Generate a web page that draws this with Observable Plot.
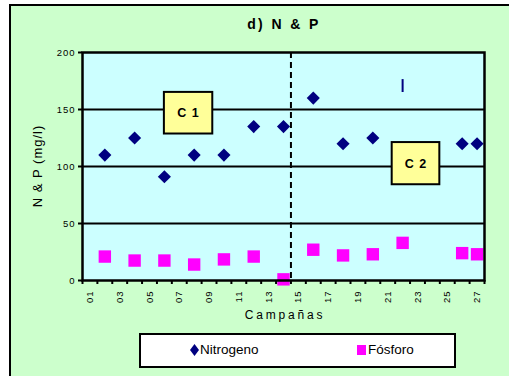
<!DOCTYPE html>
<html>
<head>
<meta charset="utf-8">
<script src="https://cdn.jsdelivr.net/npm/d3@7"></script>
<script src="https://cdn.jsdelivr.net/npm/@observablehq/plot@0.6"></script>
<style>
  body { margin: 0; width: 509px; height: 376px; overflow: hidden; font-family: "Liberation Sans", Arial, sans-serif; }
  #panel { position: absolute; left: 9px; top: 4px; width: 520px; height: 400px; border: 2px solid #000; background: #ccffcc; }
  #chart { position: absolute; left: 0; top: 0; }
  .lbl { position: absolute; color: #000; white-space: nowrap; }
  #title { left: 0; width: 568px; top: 16px; text-align: center; font-weight: bold; font-size: 14px; letter-spacing: 2.4px; }
  #xtitle { left: 0; width: 570px; top: 308px; text-align: center; font-size: 12px; letter-spacing: 2.8px; }
  #ytitle { left: 37px; top: 166px; font-size: 13px; letter-spacing: 1px; transform: translate(-50%, -50%) rotate(-90deg); }
  #legend { position: absolute; left: 139px; top: 333px; width: 313px; height: 31px; border: 2px solid #000; background: #fff; font-size: 13.5px; }
  #legend .item { position: absolute; top: 7px; display: flex; align-items: center; }
  #legend svg { margin-right: 1px; }
</style>
</head>
<body>
<div id="panel"></div>
<div id="chart"></div>
<div class="lbl" id="title">d) N &amp; P</div>
<div class="lbl" id="xtitle">Campañas</div>
<div class="lbl" id="ytitle">N &amp; P (mg/l)</div>
<div id="legend">
  <div class="item" style="left:49px"><svg width="9" height="12"><polygon points="4.5,0 9,6 4.5,12 0,6" fill="#000080"/></svg><span>Nitrogeno</span></div>
  <div class="item" style="left:216px"><svg width="10" height="11"><rect x="0" y="1" width="9" height="10" fill="#ff00ff"/></svg><span>Fósforo</span></div>
</div>
<script>
// Campaigns 01..27 on the category axis
const campaigns = d3.range(1, 28);
const labelledCampaigns = [1, 3, 5, 7, 9, 11, 13, 15, 17, 19, 21, 23, 25, 27];
const tickLabels = ["01", "03", "05", "07", "09", "11", "13", "15", "17", "19", "21", "23", "25", "27"];
const yTicks = [0, 50, 100, 150, 200];

// Nitrogen (mg/l) per sampled campaign
const nitroCampaign = [2, 4, 6, 8, 10, 12, 14, 16, 18, 20, 26, 27];
const nitroValue    = [110, 125, 91, 110, 110, 135, 135, 160, 120, 125, 120, 120];

// Nitrogen reading at campaign 22, drawn as a bar glyph
const nitroBarCampaign = [22];
const nitroBarValue = [171];

// Phosphorus (mg/l) per sampled campaign
const phosCampaign = [2, 4, 6, 8, 10, 12, 14, 16, 18, 20, 22, 26, 27];
const phosValue    = [21, 17.5, 17.5, 14, 18.5, 21, 1, 27, 22, 23, 33, 24, 23];

// Division between the two survey periods
const periodBreak = [14.5];

// Period annotation boxes
const boxLabels = ["C 1", "C 2"];
const boxX1 = [6.0, 21.3];
const boxX2 = [9.25, 24.5];
const boxY1 = [128.5, 84];
const boxY2 = [165, 121];

const nitro = nitroCampaign.map((c, i) => ({campaign: c, value: nitroValue[i]}));
const nitroBar = nitroBarCampaign.map((c, i) => ({campaign: c, value: nitroBarValue[i]}));
const phos = phosCampaign.map((c, i) => ({campaign: c, value: phosValue[i]}));
const boxes = boxLabels.map((t, i) => ({label: t, x1: boxX1[i], x2: boxX2[i], y1: boxY1[i], y2: boxY2[i]}));
const boundaries = [0, ...campaigns].map(c => c + 0.5);

const barSymbol = {
  draw(context, size) {
    const h = Math.sqrt(size) / 2;
    context.moveTo(-1, -h);
    context.lineTo(1, -h);
    context.lineTo(1, h);
    context.lineTo(-1, h);
    context.closePath();
  }
};

const chart = Plot.plot({
  width: 509,
  height: 376,
  marginLeft: 82,
  marginRight: 25,
  marginTop: 52,
  marginBottom: 96,
  style: {background: "transparent", fontFamily: "Liberation Sans, Arial, sans-serif", color: "#000"},
  x: {type: "linear", domain: [0.5, 27.5]},
  y: {domain: [0, 200]},
  marks: [
    Plot.frame({fill: "#ccffff", stroke: null}),
    Plot.ruleY(yTicks.filter(v => v > 0 && v < 200), {stroke: "#000", strokeWidth: 2}),
    Plot.ruleX(periodBreak, {stroke: "#000", strokeWidth: 2, strokeDasharray: "6,4"}),
    Plot.rect(boxes, {x1: "x1", x2: "x2", y1: "y1", y2: "y2", fill: "#ffff99", stroke: "#000", strokeWidth: 2}),
    Plot.text(boxes, {x: d => (d.x1 + d.x2) / 2, y: d => (d.y1 + d.y2) / 2, text: "label", fontWeight: "bold", fontSize: 12.5}),
    Plot.dot(nitro, {x: "campaign", y: "value", symbol: "diamond2", r: 5.9, fill: "#000080", stroke: null}),
    Plot.dot(nitroBar, {x: "campaign", y: "value", symbol: barSymbol, r: 7.3, fill: "#000080", stroke: null}),
    Plot.dot(phos, {x: "campaign", y: "value", symbol: "square", r: 7, fill: "#ff00ff", stroke: null}),
    Plot.frame({stroke: "#000", strokeWidth: 2.5}),
    Plot.axisY({ticks: yTicks, tickSize: 4, tickPadding: 3, strokeWidth: 2, fontSize: 9.5, label: null, tickFormat: d => String(d)}),
    Plot.axisX({ticks: boundaries, tickSize: 4, strokeWidth: 2, tickFormat: () => "", label: null}),
    Plot.axisX({ticks: labelledCampaigns, tickSize: 0, tickPadding: 10, tickRotate: -90, fontSize: 9.5, label: null,
      tickFormat: d => tickLabels[labelledCampaigns.indexOf(d)]})
  ]
});
d3.select(chart).selectAll("text").style("letter-spacing", "1px");
document.getElementById("chart").append(chart);
</script>
</body>
</html>
